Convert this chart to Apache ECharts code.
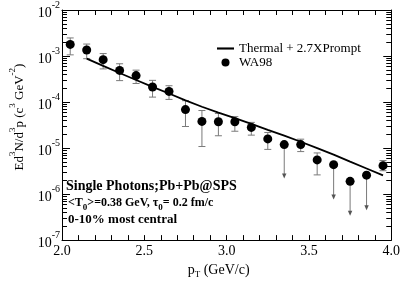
<!DOCTYPE html>
<html><head><meta charset="utf-8">
<script src="https://cdn.jsdelivr.net/npm/echarts@6/dist/echarts.min.js"></script>
<style>html,body{margin:0;padding:0;background:#fff}#c{width:403px;height:284px}</style>
</head><body><div id="c"></div>
<script>
const ptValues = [2.05,2.15,2.25,2.35,2.45,2.55,2.65,2.75,2.85,2.95,3.05,3.15,3.25,3.35,3.45,3.55,3.65,3.75,3.85,3.95];
const wa98Values = [1.79e-3,1.35e-3,8.34e-4,4.86e-4,3.76e-4,2.12e-4,1.70e-4,6.86e-5,3.79e-5,3.74e-5,3.74e-5,2.81e-5,1.58e-5,1.19e-5,1.19e-5,5.53e-6,4.36e-6,1.89e-6,2.58e-6,4.15e-6];
const errUpper = [2.47e-3,1.82e-3,1.13e-3,6.79e-4,4.93e-4,2.96e-4,2.26e-4,1.07e-4,6.54e-5,5.66e-5,4.82e-5,3.61e-5,2.18e-5,null,1.56e-5,7.84e-6,null,null,null,5.35e-6];
const errLower = [1.06e-3,8.75e-4,5.25e-4,2.92e-4,2.53e-4,1.28e-4,1.14e-4,2.94e-5,1.08e-5,1.85e-5,2.32e-5,1.91e-5,9.35e-6,null,8.38e-6,2.61e-6,null,null,null,3.22e-6];
const upperLimitEnd = [null,null,null,null,null,null,null,null,null,null,null,null,null,2.18e-6,null,null,7.62e-7,3.38e-7,4.44e-7,null];
const thermalPt = [2.15,2.25,2.35,2.45,2.55,2.65,2.75,2.85,2.95,3.05,3.15,3.25,3.35,3.45,3.55,3.65,3.75,3.85,3.95];
const thermalValues = [8.75e-4,6.11e-4,4.27e-4,3.01e-4,2.14e-4,1.53e-4,1.09e-4,7.91e-5,5.89e-5,4.46e-5,3.35e-5,2.49e-5,1.87e-5,1.37e-5,1.00e-5,7.19e-6,5.07e-6,3.60e-6,2.54e-6];
const xTickLabels = ['2.0','2.5','3.0','3.5','4.0'];
const yTickExponents = [-7,-6,-5,-4,-3,-2];
const yMinorMultipliers = [2,3,4,5,6,7,8,9];

const FONT = "'Liberation Serif','Times New Roman',serif";
const minorTickData = [];
yTickExponents.slice(0,-1).forEach(e => yMinorMultipliers.forEach(k => minorTickData.push([2, k*Math.pow(10,e)])));
const errorData = ptValues.map((x,i)=>[x, errLower[i], errUpper[i]]).filter(d=>d[1]!=null);
const arrowData = ptValues.map((x,i)=>[x, wa98Values[i], upperLimitEnd[i]]).filter(d=>d[2]!=null);

function renderMinorTicks(params, api){
  const cs = params.coordSys;
  const y = Math.round(api.coord([api.value(0), api.value(1)])[1]) + 0.5;
  const st = {stroke:'#000', lineWidth:1};
  return {type:'group', children:[
    {type:'line', shape:{x1:cs.x, y1:y, x2:cs.x+5, y2:y}, style:st},
    {type:'line', shape:{x1:cs.x+cs.width-5, y1:y, x2:cs.x+cs.width, y2:y}, style:st}
  ]};
}
function renderErrorBar(params, api){
  const x = api.value(0);
  const t = api.coord([x, api.value(2)]);
  const b = api.coord([x, api.value(1)]);
  const hw = 3.5, st = {stroke:'#7a7a7a', lineWidth:1};
  return {type:'group', children:[
    {type:'line', shape:{x1:t[0],y1:t[1],x2:b[0],y2:b[1]}, style:st},
    {type:'line', shape:{x1:t[0]-hw,y1:t[1],x2:t[0]+hw,y2:t[1]}, style:st},
    {type:'line', shape:{x1:b[0]-hw,y1:b[1],x2:b[0]+hw,y2:b[1]}, style:st}
  ]};
}
function renderArrow(params, api){
  const x = api.value(0);
  const a = api.coord([x, api.value(1)]);
  const b = api.coord([x, api.value(2)]);
  return {type:'group', children:[
    {type:'line', shape:{x1:a[0],y1:a[1],x2:b[0],y2:b[1]-3}, style:{stroke:'#7a7a7a', lineWidth:1}},
    {type:'polygon', shape:{points:[[b[0]-2.2,b[1]-5],[b[0]+2.2,b[1]-5],[b[0],b[1]]]}, style:{fill:'#555'}}
  ]};
}

const chart = echarts.init(document.getElementById('c'), null, {renderer:'canvas'});
const axisCommon = {
  axisLine:{show:true, onZero:false, lineStyle:{color:'#000', width:1}},
  splitLine:{show:false}
};
chart.setOption({
  animation:false,
  backgroundColor:'#fff',
  grid:{left:48, right:10, top:9, bottom:34, containLabel:false},
  legend:{
    orient:'vertical', left:212, top:37, itemWidth:17, itemHeight:8, itemGap:1,
    textStyle:{fontFamily:FONT, fontSize:13, color:'#000'},
    data:[
      {name:'Thermal + 2.7XPrompt', icon:'path://M0,0 L16,0 L16,2 L0,2 Z'},
      {name:'WA98', icon:'circle'}
    ]
  },
  xAxis:[
    Object.assign({}, axisCommon, {
      type:'value', min:2, max:4, interval:0.5, position:'bottom',
      axisTick:{show:true, inside:true, length:5, lineStyle:{color:'#000'}},
      minorTick:{show:true, splitNumber:5, length:5, lineStyle:{color:'#000'}},
      axisLabel:{margin:4, fontFamily:FONT, fontSize:14, color:'#000',
        formatter:v=>xTickLabels[Math.round((v-2)/0.5)]},
      name:'{m|p}{sub|T}{m| (GeV/c)}', nameLocation:'middle', nameGap:21,
      nameTextStyle:{padding:[0,16,0,0], rich:{
        m:{fontFamily:FONT, fontSize:14, color:'#000', lineHeight:16, verticalAlign:'top'},
        sub:{fontFamily:FONT, fontSize:9, color:'#000', lineHeight:9, verticalAlign:'bottom'}}}
    }),
    Object.assign({}, axisCommon, {
      type:'value', min:2, max:4, interval:0.5, position:'top',
      axisTick:{show:true, inside:true, length:5, lineStyle:{color:'#000'}},
      minorTick:{show:true, splitNumber:5, length:5, lineStyle:{color:'#000'}},
      axisLabel:{show:false}
    })
  ],
  yAxis:[
    Object.assign({}, axisCommon, {
      type:'log', logBase:10, min:1e-7, max:1e-2, position:'left',
      axisTick:{show:true, inside:true, length:8, lineStyle:{color:'#000'}},
      axisLabel:{margin:2, formatter:v=>{
          const e = Math.round(Math.log10(v));
          return yTickExponents.includes(e) ? '{b|10}{s|' + e + '}' : '';
        },
        rich:{
          b:{fontFamily:FONT, fontSize:14, color:'#000', lineHeight:20, verticalAlign:'bottom'},
          s:{fontFamily:FONT, fontSize:10, color:'#000', lineHeight:10, verticalAlign:'top'}
        }},
      name:'{m|Ed}{sup|3}{m|N/d}{sup|3}{m|p (c}{sup|3}{m| GeV}{sup|-2}{m|)}',
      nameLocation:'middle', nameRotate:90, nameGap:36,
      nameTextStyle:{padding:[0,0,0,16], rich:{
        m:{fontFamily:FONT, fontSize:13, color:'#000', lineHeight:18, verticalAlign:'bottom'},
        sup:{fontFamily:FONT, fontSize:9, color:'#000', lineHeight:9, verticalAlign:'top'}}}
    }),
    Object.assign({}, axisCommon, {
      type:'log', logBase:10, min:1e-7, max:1e-2, position:'right',
      axisTick:{show:true, inside:true, length:8, lineStyle:{color:'#000'}},
      axisLabel:{show:false}
    })
  ],
  graphic:[
    {type:'text', left:66, top:179, style:{text:'Single Photons;Pb+Pb@SPS', font:'bold 14px '+FONT, fill:'#000'}},
    {type:'text', left:68, top:197, style:{
      text:'{m|<T}{sub|0}{m|>=0.38 GeV, τ}{sub|0}{m|= 0.2 fm/c}',
      rich:{
        m:{fontFamily:FONT, fontWeight:'bold', fontSize:12, fill:'#000', lineHeight:15, verticalAlign:'top'},
        sub:{fontFamily:FONT, fontWeight:'bold', fontSize:9, fill:'#000', lineHeight:9, verticalAlign:'bottom'}
      }}},
    {type:'text', left:68, top:213, style:{text:'0-10% most central', font:'bold 13px '+FONT, fill:'#000'}}
  ],
  series:[
    {type:'custom', name:'minorTicks', silent:true, renderItem:renderMinorTicks, data:minorTickData,
      encode:{x:0, y:1}, z:1},
    {type:'custom', name:'errors', silent:true, renderItem:renderErrorBar, data:errorData,
      encode:{x:0, y:[1,2]}, z:2},
    {type:'custom', name:'limits', silent:true, renderItem:renderArrow, data:arrowData,
      encode:{x:0, y:[1,2]}, z:2},
    {type:'line', name:'Thermal + 2.7XPrompt', data:thermalPt.map((x,i)=>[x, thermalValues[i]]),
      symbol:'none', showSymbol:false, lineStyle:{color:'#000', width:1.8}, itemStyle:{color:'#000'}, z:3},
    {type:'scatter', name:'WA98', data:ptValues.map((x,i)=>[x, wa98Values[i]]),
      symbol:'circle', symbolSize:9, itemStyle:{color:'#000', opacity:1}, z:4}
  ]
});
</script></body></html>
